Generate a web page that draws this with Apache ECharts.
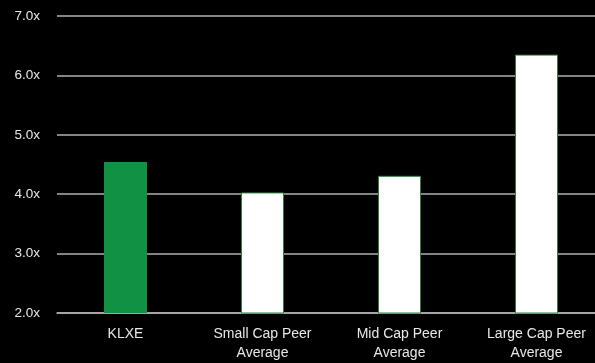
<!DOCTYPE html>
<html><head><meta charset="utf-8">
<script src="https://cdn.jsdelivr.net/npm/echarts@6/dist/echarts.min.js"></script>
<style>html,body{margin:0;padding:0;background:#000;}#c{width:595px;height:363px;}</style>
</head><body><div id="c"></div>
<script>
const categories = ["KLXE", "Small Cap Peer\nAverage", "Mid Cap Peer\nAverage", "Large Cap Peer\nAverage"];
const values = [4.54, 4.03, 4.31, 6.35];
const barColors = ["#109144", "#ffffff", "#ffffff", "#ffffff"];
const yTicks = [2, 3, 4, 5, 6, 7];

const chart = echarts.init(document.getElementById('c'));
chart.setOption({
  backgroundColor: '#000',
  animation: false,
  grid: {left: 57, width: 548, top: 16, bottom: 50, containLabel: false, outerBoundsMode: 'none'},
  xAxis: {
    type: 'category', data: categories,
    axisLine: {show: true, lineStyle: {color: '#b0b0b0', width: 1.5}},
    axisTick: {show: false},
    axisLabel: {color: '#e8e8e8', fontFamily: 'Liberation Sans, Arial', fontSize: 14, margin: 12, lineHeight: 19, interval: 0}
  },
  yAxis: {
    type: 'value', min: yTicks[0], max: yTicks[yTicks.length-1], interval: 1,
    axisLine: {show: false}, axisTick: {show: false},
    splitLine: {lineStyle: {color: '#b0b0b0', width: 1.5}},
    axisLabel: {color: '#e8e8e8', fontFamily: 'Liberation Sans, Arial', fontSize: 13.5, margin: 17,
      formatter: v => v.toFixed(1) + 'x'}
  },
  series: [{
    type: 'bar', barWidth: 43,
    data: values.map((v, i) => ({value: v, itemStyle: {color: barColors[i], borderColor: '#2e7d3e', borderWidth: i === 0 ? 0 : 1}}))
  }]
});
</script></body></html>
